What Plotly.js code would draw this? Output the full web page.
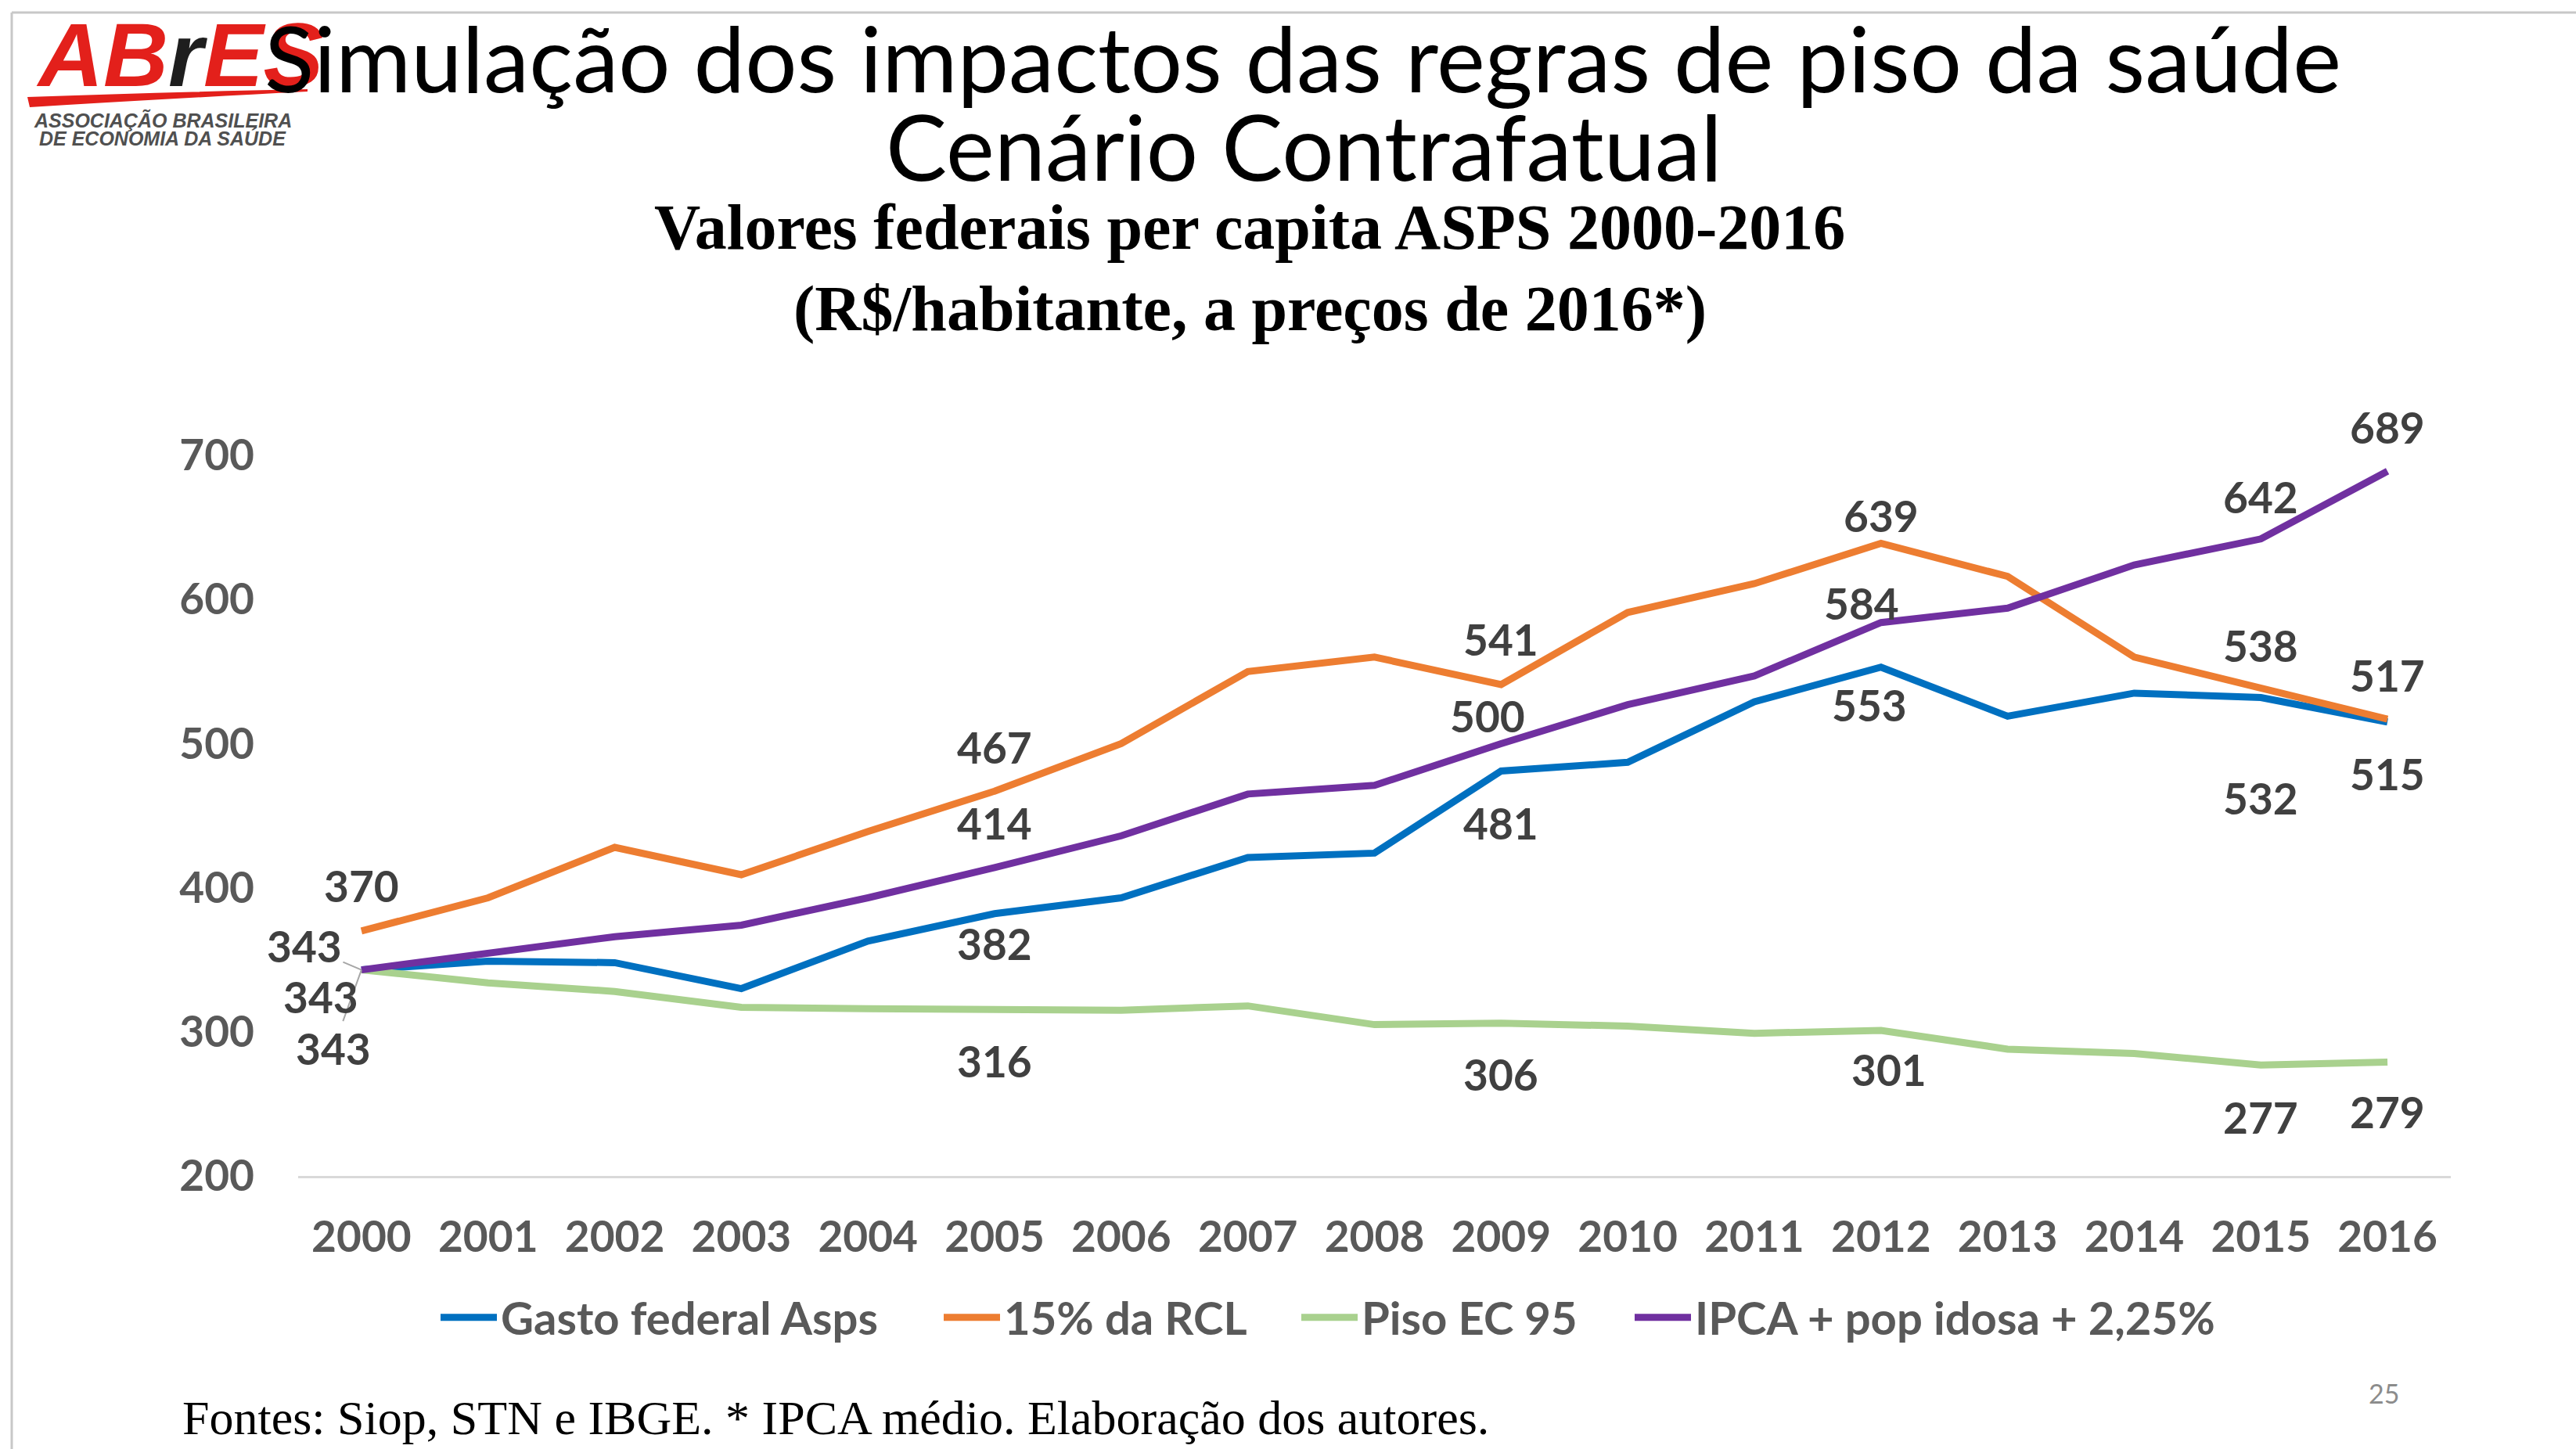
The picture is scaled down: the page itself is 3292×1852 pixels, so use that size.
<!DOCTYPE html>
<html><head><meta charset="utf-8">
<script src="https://cdn.plot.ly/plotly-3.0.1.min.js"></script>
<style>html,body{margin:0;padding:0;background:#fff;overflow:hidden;} #chart{width:3292px;height:1852px;}</style>
</head><body><div id="chart"></div>
<script>
// ---- DATA ----
const years = [2000,2001,2002,2003,2004,2005,2006,2007,2008,2009,2010,2011,2012,2013,2014,2015,2016];
const yearLabels = ['2000','2001','2002','2003','2004','2005','2006','2007','2008','2009','2010','2011','2012','2013','2014','2015','2016'];
const gastoFederal = [343,349,348,330,363,382,393,421,424,481,487,529,553,519,535,532,515];
const rcl15        = [370,393,428,409,439,467,500,550,560,541,591,611,639,616,560,538,517];
const pisoEC95     = [343,334,328,317,316,316,315,318,305,306,304,299,301,288,285,277,279];
const ipcaPopIdosa = [343,355,366,374,393,414,436,465,471,500,527,547,584,594,624,642,689];
const seriesNames  = ['Gasto federal Asps','15% da RCL','Piso EC 95','IPCA + pop idosa + 2,25%'];
const labeledYears = [2000,2005,2009,2012,2015,2016];
const yTicks = [200,300,400,500,600,700];

// ---- LAYOUT GEOMETRY / STYLE ----
const W = 3292, H = 1852, L = 381, R = 160, T = 582, B = 349;
const PX = px => (px - L) / (W - L - R);
const PY = py => (H - B - py) / (H - T - B);
const colors = ['#0070C0','#ED7D31','#A9D18E','#7030A0'];
const seriesData = [gastoFederal, rcl15, pisoEC95, ipcaPopIdosa];
// label offsets [dx, dy] in pixels (screen down positive) for each labeled year
const labelOffsets = [
  [[-73,-31],[0,38],[0,67],[-15,48],[0,129],[0,66]],
  [[0,-58],[0,-56],[0,-58],[0,-35],[0,-55],[0,-56]],
  [[-36,100],[0,67],[0,65],[10,50],[0,67],[0,64]],
  [[-52,34],[0,-57],[-17,-35],[-25,-25],[0,-54],[0,-56]]
];
const leader = [true, false, true, false];
const legendTextStart = [645, 1288, 1745, 2171];
const legendItemWidth = 72;
const sansFam = 'Lato, "Open Sans", sans-serif';
const tickFont = {family:sansFam, size:55, color:'#595959', weight:700};
const legendFont = {family:sansFam, size:58, color:'#595959', weight:700};

const traces = seriesData.map((ys, i) => ({
  type:'scatter', mode:'lines', x: years, y: ys, name: seriesNames[i],
  line:{color: colors[i], width: 9}, cliponaxis:false,
  legend: i === 0 ? 'legend' : 'legend' + (i + 1), hoverinfo:'skip'
}));

const annotations = [];
const pAnn = (o) => Object.assign({xref:'paper', yref:'paper', xanchor:'center', yanchor:'middle', showarrow:false}, o);
// logo
annotations.push(pAnn({x:PX(229), y:PY(70),
  text:'<b><i><span style="color:#E3201B">AB</span><span style="color:#1e1e1e">r</span><span style="color:#E3201B">ES</span></i></b>',
  font:{family:'"Liberation Sans", Arial, sans-serif', size:115, color:'#E3201B'}}));
annotations.push(pAnn({x:PX(208), y:PY(153), text:'<b><i>ASSOCIAÇÃO BRASILEIRA</i></b>',
  font:{family:'"Liberation Sans", Arial, sans-serif', size:25, color:'#505050'}}));
annotations.push(pAnn({x:PX(208), y:PY(177), text:'<b><i>DE ECONOMIA DA SAÚDE</i></b>',
  font:{family:'"Liberation Sans", Arial, sans-serif', size:25, color:'#505050'}}));
// titles
annotations.push(pAnn({x:PX(1665), y:PY(1), yanchor:'top',
  text:'Simulação dos impactos das regras de piso da saúde', font:{family:sansFam, size:117, color:'#000000'}}));
annotations.push(pAnn({x:PX(1666), y:PY(186),
  text:'Cenário Contrafatual', font:{family:sansFam, size:117, color:'#000000'}}));
annotations.push(pAnn({x:PX(1597), y:PY(290),
  text:'<b>Valores federais per capita ASPS 2000-2016</b>', font:{family:'"Liberation Serif", "Times New Roman", serif', size:82, color:'#000000'}}));
annotations.push(pAnn({x:PX(1597), y:PY(395),
  text:'<b>(R$/habitante, a preços de 2016*)</b>', font:{family:'"Liberation Serif", "Times New Roman", serif', size:82, color:'#000000'}}));
// footer
annotations.push(pAnn({x:PX(231), y:PY(1812), xanchor:'left',
  text:'Fontes: Siop, STN e IBGE. * IPCA médio. Elaboração dos autores.', font:{family:'"Liberation Serif", "Times New Roman", serif', size:62, color:'#000000'}}));
annotations.push(pAnn({x:PX(3046), y:PY(1780), text:'25', font:{family:sansFam, size:34, color:'#8c8c8c'}}));

// data labels (anchored to the data points through the axes)
seriesData.forEach((ys, si) => {
  labeledYears.forEach((yr, k) => {
    const idx = years.indexOf(yr);
    const [dx, dy] = labelOffsets[si][k];
    const v = ys[idx];
    const base = {x: yr, y: v, xref:'x', yref:'y', text: String(v), xanchor:'center', yanchor:'middle',
      font:{family:sansFam, size:55, color:'#404040', weight:700}};
    if (k === 0 && leader[si]) {
      annotations.push(Object.assign(base, {showarrow:true, ax:dx, ay:dy, arrowhead:0, arrowwidth:2, arrowcolor:'#a6a6a6', standoff:0}));
    } else {
      annotations.push(Object.assign(base, {showarrow:false, xshift:dx, yshift:-dy}));
    }
  });
});

// logo swoosh + slide borders
const sw = [[35,124],[200,118],[393,114],[393,117],[200,127],[38,137]];
const swPath = 'M' + PX(sw[0][0]) + ',' + PY(sw[0][1]) +
  ' Q' + PX(sw[1][0]) + ',' + PY(sw[1][1]) + ' ' + PX(sw[2][0]) + ',' + PY(sw[2][1]) +
  ' L' + PX(sw[3][0]) + ',' + PY(sw[3][1]) +
  ' Q' + PX(sw[4][0]) + ',' + PY(sw[4][1]) + ' ' + PX(sw[5][0]) + ',' + PY(sw[5][1]) + ' Z';
const shapes = [
  {type:'path', xref:'paper', yref:'paper', path: swPath, fillcolor:'#E3201B', line:{width:0}, layer:'above'},
  {type:'line', xref:'paper', yref:'paper', x0:PX(15), y0:PY(16), x1:PX(3292), y1:PY(16), line:{color:'#c8c8c8', width:3}},
  {type:'line', xref:'paper', yref:'paper', x0:PX(15), y0:PY(16), x1:PX(15), y1:PY(1852), line:{color:'#c8c8c8', width:3}}
];

const layout = {
  width: W, height: H, margin:{l:L, r:R, t:T, b:B, pad:0},
  paper_bgcolor:'#ffffff', plot_bgcolor:'#ffffff',
  showlegend: true,
  xaxis:{type:'linear', range:[years[0] - 0.5, years[years.length - 1] + 0.5], tickvals: years, ticktext: yearLabels,
    showgrid:false, zeroline:false, showline:true, linecolor:'#d9d9d9', linewidth:3, ticks:'',
    tickfont:tickFont, ticklabelstandoff:28, fixedrange:true},
  yaxis:{range:[200,700], tickvals: yTicks, ticktext: yTicks.map(String), showgrid:false, zeroline:false, showline:false,
    ticks:'', tickfont:tickFont, ticklabelstandoff:55, fixedrange:true},
  annotations, shapes
};
['legend','legend2','legend3','legend4'].forEach((k, i) => {
  layout[k] = {x: PX(legendTextStart[i] - legendItemWidth - 15), xanchor:'left', y: PY(1684), yanchor:'middle', orientation:'h',
    bgcolor:'rgba(0,0,0,0)', borderwidth:0, font: legendFont, itemwidth: legendItemWidth};
});

Plotly.newPlot('chart', traces, layout, {displayModeBar:false, staticPlot:true});
</script></body></html>
